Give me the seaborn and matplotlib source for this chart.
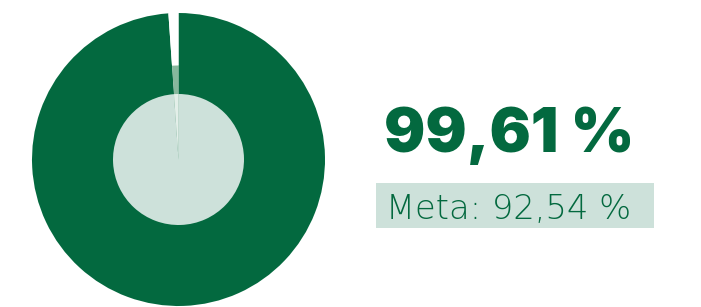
import matplotlib
matplotlib.use("Agg")
import matplotlib.pyplot as plt
import seaborn as sns

# values shown in the chart
result_label = "99,61 %"
goal_label = "Meta: 92,54 %"
# slice shares as drawn (the gap is drawn wider than 0.39 %)
ring_shares = [98.9, 1.1]

dark_green = "#03693f"
pale_green = "#cde1da"
mid_green = "#87b89d"
pale_slice = "#e3efe9"

sns.set_theme(style="white")
plt.rcParams['font.family'] = ['Inter', 'DejaVu Sans']

fig = plt.figure(figsize=(7.01, 3.07), dpi=100)
fig.patch.set_facecolor("white")

# square axes around the donut (in pixels: centre 178.5, 159.5, radius 146.5)
W, H = 701, 307
ax = fig.add_axes([32 / W, 1 / H, 293 / W, 293 / H])
ax.axis("off")

outer_r = 1.0
middle_r = 94 / 146.5
inner_r = 65.5 / 146.5

# stacked full pies, biggest first, so no seams show between the rings
ax.pie(ring_shares, radius=outer_r, colors=[dark_green, "white"],
       startangle=90, counterclock=False, wedgeprops=dict(linewidth=0))
ax.pie(ring_shares, radius=middle_r, colors=[dark_green, mid_green],
       startangle=90, counterclock=False, wedgeprops=dict(linewidth=0))
ax.pie(ring_shares, radius=inner_r, colors=[pale_green, pale_slice],
       startangle=90, counterclock=False, wedgeprops=dict(linewidth=0))
ax.set_xlim(-1, 1)
ax.set_ylim(-1, 1)

# big result number
fig.text(384 / W, 1 - 152 / H, result_label, color=dark_green,
         fontsize=44, fontweight=900, ha="left", va="baseline")

# goal box
box = plt.Rectangle((376 / W, 1 - 228 / H), (654 - 376) / W, 45 / H,
                    transform=fig.transFigure, facecolor=pale_green,
                    edgecolor="none")
fig.patches.append(box)
fig.text(386 / W, 1 - 219 / H, goal_label, color=dark_green,
         fontsize=24.3, fontweight="light", family=["DejaVu Sans"],
         ha="left", va="baseline")

fig.savefig("out.png", dpi=100, facecolor="white")
